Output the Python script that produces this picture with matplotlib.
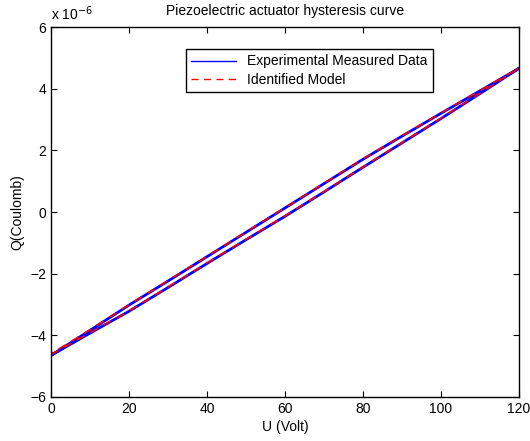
import numpy as np
import matplotlib.pyplot as plt

plt.rcParams['font.family'] = ['Liberation Sans', 'DejaVu Sans']

# 电压 (V)
u_volt = [0, 10, 20, 30, 40, 50, 60, 70, 80, 90, 100, 110, 120]
# 实测数据, 单位 1e-6 C (上升支 / 下降支)
q_meas_up = [-4.65, -3.93, -3.22, -2.45, -1.67, -0.90, -0.14, 0.65, 1.45, 2.24, 3.03, 3.84, 4.66]
q_meas_down = [-4.65, -3.84, -3.02, -2.24, -1.45, -0.66, 0.13, 0.92, 1.71, 2.46, 3.20, 3.93, 4.66]
# 辨识模型
q_model_up = [-4.62, -3.92, -3.21, -2.44, -1.66, -0.89, -0.13, 0.66, 1.46, 2.25, 3.04, 3.85, 4.67]
q_model_down = [-4.60, -3.82, -3.01, -2.23, -1.44, -0.65, 0.14, 0.93, 1.72, 2.47, 3.21, 3.94, 4.67]

u_loop = u_volt + u_volt[::-1]
q_meas = q_meas_up + q_meas_down[::-1]
q_model = q_model_up + q_model_down[::-1]

fig = plt.figure(figsize=(5.30, 4.41), dpi=100)
ax = fig.add_axes([51/530, 1 - 397/441, 468/530, 370/441])

ax.plot(u_loop, q_meas, color='blue', lw=2.0, label='Experimental Measured Data')
ax.plot(u_loop, q_model, color='red', lw=1.2, ls=(0, (5, 4)), label='Identified Model')

ax.set_xlim(0, 120)
ax.set_ylim(-6, 6)
ax.set_xticks(np.arange(0, 121, 20))
ax.set_yticks(np.arange(-6, 7, 2))
ax.tick_params(direction='in', top=True, right=True, labelsize=10, length=4)
for s in ax.spines.values():
    s.set_linewidth(1.0)

ax.text(0, 1.01, r'x 10$^{-6}$', transform=ax.transAxes, fontsize=10, va='bottom', ha='left')
ax.set_title('Piezoelectric actuator hysteresis curve', fontsize=10, pad=9)
ax.set_xlabel('U (Volt)', fontsize=10, labelpad=3)
ax.set_ylabel('Q(Coulomb)', fontsize=10, labelpad=4)

leg = ax.legend(loc='upper left', bbox_to_anchor=(0.288, 0.941), borderaxespad=0,
                fancybox=False, framealpha=1, edgecolor='black', fontsize=10,
                handlelength=3.2, borderpad=0.4, labelspacing=0.3)
leg.get_frame().set_linewidth(1.0)
for h in leg.get_lines():
    h.set_linewidth(1.0)

plt.savefig('out.png', dpi=100)
